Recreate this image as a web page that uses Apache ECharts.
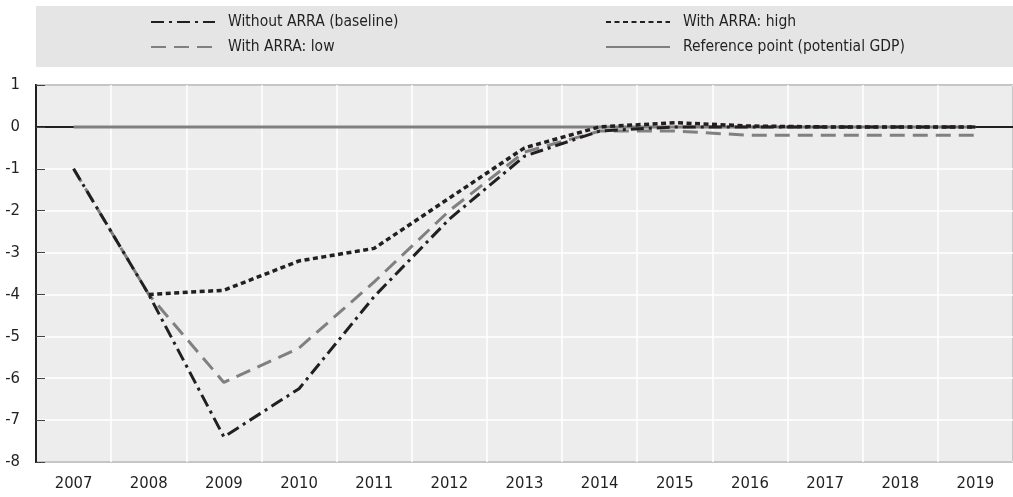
<!DOCTYPE html>
<html>
<head>
<meta charset="utf-8">
<script src="https://cdn.jsdelivr.net/npm/echarts@6/dist/echarts.min.js"></script>
<style>
  html, body { margin: 0; padding: 0; background: #fff; }
  #chart { width: 1013px; height: 497px; }
</style>
</head>
<body>
<div id="chart"></div>
<script>
const years = ['2007', '2008', '2009', '2010', '2011', '2012', '2013', '2014', '2015', '2016', '2017', '2018', '2019']
const baseline = [-1, -4, -7.4, -6.25, -4.05, -2.2, -0.7, -0.1, 0, 0, 0, 0, 0]
const low = [-1, -4, -6.1, -5.28, -3.7, -2.0, -0.6, -0.1, -0.1, -0.2, -0.2, -0.2, -0.2]
const high = [null, -4, -3.9, -3.2, -2.9, -1.7, -0.5, 0, 0.1, 0.02, 0, 0, 0]
const reference = [0, 0, 0, 0, 0, 0, 0, 0, 0, 0, 0, 0, 0]

const font = "'Liberation Sans Narrow', 'DejaVu Sans Condensed', sans-serif"
const dark = '#231f20'
const grey = '#808080'

const chart = echarts.init(document.getElementById('chart'))

const legendText = { fontFamily: font, fontSize: 15.5, color: dark, padding: [0, 0, 0, 8] }
// hide the marker dot, keep only the dashed line in the legend
const legendItem = { color: 'transparent', borderColor: 'transparent', borderWidth: 0 }

chart.setOption({
  animation: false,
  graphic: [{
    type: 'rect', left: 36, top: 6, z: -10,
    shape: { width: 977, height: 61 },
    style: { fill: '#e5e5e6' }
  }],
  legend: [
    {
      left: 145, top: 9, orient: 'vertical', itemWidth: 64, itemHeight: 14, itemGap: 9,
      data: ['Without ARRA (baseline)', 'With ARRA: low'],
      textStyle: legendText, itemStyle: legendItem
    },
    {
      left: 600, top: 9, orient: 'vertical', itemWidth: 64, itemHeight: 14, itemGap: 9,
      data: ['With ARRA: high', 'Reference point (potential GDP)'],
      textStyle: legendText, itemStyle: legendItem
    }
  ],
  grid: {
    left: 36, right: -6, top: 85, bottom: 35,
    show: true, backgroundColor: '#ededed', borderColor: dark, borderWidth: 2
  },
  xAxis: {
    type: 'category', data: years, boundaryGap: true,
    axisLine: { lineStyle: { color: dark, width: 2 } },
    axisTick: { inside: true, length: 8, interval: 0, lineStyle: { color: dark } },
    axisLabel: { fontFamily: font, fontSize: 16.5, color: dark, margin: 13 },
    splitLine: { show: true, interval: 0, lineStyle: { color: '#fff', width: 1.5 } }
  },
  yAxis: {
    type: 'value', min: -8, max: 1, interval: 1,
    axisLine: { show: true, lineStyle: { color: dark, width: 2 } },
    axisTick: { show: true, inside: true, length: 9, lineStyle: { color: '#444' } },
    axisLabel: { fontFamily: font, fontSize: 16.5, color: dark, margin: 16 },
    splitLine: { lineStyle: { color: '#fff', width: 1.5 } }
  },
  series: [
    {
      name: 'Reference point (potential GDP)', type: 'line', data: reference,
      symbol: 'none', lineStyle: { color: grey, width: 3 }, itemStyle: { color: grey }
    },
    {
      name: 'With ARRA: low', type: 'line', data: low,
      symbol: 'none', lineStyle: { color: grey, width: 3, type: [15, 8] }, itemStyle: { color: grey }
    },
    {
      name: 'With ARRA: high', type: 'line', data: high,
      symbol: 'none', lineStyle: { color: dark, width: 3.5, type: [5, 3.5] }, itemStyle: { color: dark }
    },
    {
      name: 'Without ARRA (baseline)', type: 'line', data: baseline,
      symbol: 'none', lineStyle: { color: dark, width: 3, type: [13, 5, 3, 5] }, itemStyle: { color: dark }
    }
  ]
})

window.addEventListener('resize', () => chart.resize())
</script>
</body>
</html>
